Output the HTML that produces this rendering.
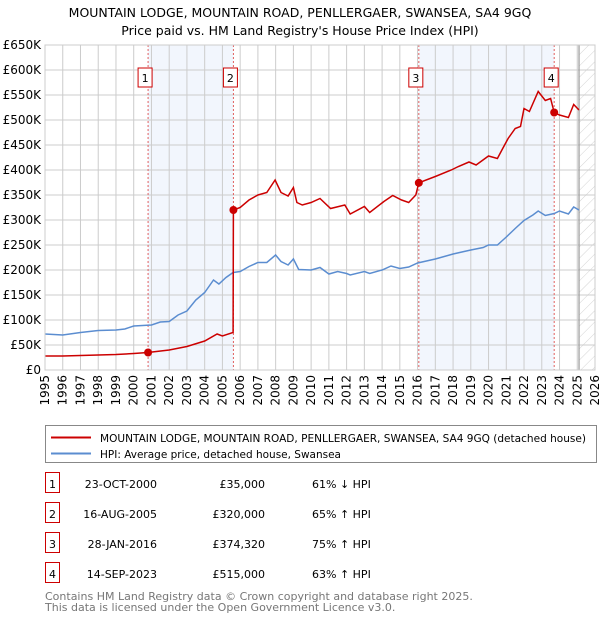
<!DOCTYPE html>
<html><head><meta charset="utf-8"><style>
body{margin:0;background:#fff;font-family:"Liberation Sans","DejaVu Sans",sans-serif;}
svg text{font-family:"DejaVu Sans","Liberation Sans",sans-serif;}
</style></head><body>
<svg id="chart" width="600" height="620" xmlns="http://www.w3.org/2000/svg">
<defs><pattern id="hatch" width="8" height="8" patternUnits="userSpaceOnUse" patternTransform="rotate(45)"><line x1="0" y1="0" x2="0" y2="8" stroke="#d4d4d4" stroke-width="1"/></pattern></defs>
<text x="300" y="17" text-anchor="middle" font-size="12.5">MOUNTAIN LODGE, MOUNTAIN ROAD, PENLLERGAER, SWANSEA, SA4 9GQ</text>
<text x="300" y="35" text-anchor="middle" font-size="12.5">Price paid vs. HM Land Registry's House Price Index (HPI)</text>
<g id="plot"></g>
<rect x="45.5" y="425.5" width="551" height="37" fill="#fff" stroke="#888"/>
<line x1="51" y1="437.5" x2="91" y2="437.5" stroke="#cc0000" stroke-width="2"/>
<text x="100" y="442" font-size="11" textLength="486" lengthAdjust="spacingAndGlyphs">MOUNTAIN LODGE, MOUNTAIN ROAD, PENLLERGAER, SWANSEA, SA4 9GQ (detached house)</text>
<line x1="51" y1="453.5" x2="91" y2="453.5" stroke="#5b8dd0" stroke-width="2"/>
<text x="100" y="458" font-size="11" textLength="241" lengthAdjust="spacingAndGlyphs">HPI: Average price, detached house, Swansea</text>
<g id="table" font-size="11"></g>
<text x="45" y="600" font-size="11" fill="#777">Contains HM Land Registry data © Crown copyright and database right 2025.</text>
<text x="45" y="611" font-size="11" fill="#777">This data is licensed under the Open Government Licence v3.0.</text>
</svg>
<script>
const yTicks=[0,50,100,150,200,250,300,350,400,450,500,550,600,650];
const yTickLabels=["£0","£50K","£100K","£150K","£200K","£250K","£300K","£350K","£400K","£450K","£500K","£550K","£600K","£650K"];
const xYears=[1995,1996,1997,1998,1999,2000,2001,2002,2003,2004,2005,2006,2007,2008,2009,2010,2011,2012,2013,2014,2015,2016,2017,2018,2019,2020,2021,2022,2023,2024,2025,2026];
const redT=[1995,1996,1997,1998,1999,2000,2000.8,2002,2003,2004,2004.7,2005,2005.6,2005.62,2006,2006.5,2007,2007.5,2007.97,2008.3,2008.7,2009,2009.2,2009.5,2010,2010.5,2011.1,2011.9,2012.2,2013,2013.3,2014.1,2014.6,2015.1,2015.5,2015.9,2016.07,2017,2017.9,2018.3,2018.9,2019.3,2020,2020.5,2020.8,2021.1,2021.5,2021.8,2022,2022.3,2022.8,2023.2,2023.5,2023.7,2024,2024.5,2024.8,2025.1];
const redV=[28,28,29,30,31,33,35,40,47,58,72,68,75,320,325,340,350,355,380,355,348,365,335,330,335,343,323,330,312,327,315,337,349,340,335,350,374.32,387,400,407,416,410,428,423,443,463,483,487,523,517,557,539,543,515,510,505,531,520];
const hpiT=[1995,1996,1997,1998,1999,1999.5,2000,2001,2001.5,2002,2002.5,2003,2003.5,2004,2004.5,2004.8,2005.2,2005.6,2006,2006.5,2007,2007.5,2008,2008.3,2008.7,2009,2009.3,2010,2010.5,2011,2011.5,2012,2012.2,2013,2013.3,2014,2014.5,2015,2015.5,2016,2017,2018,2018.5,2019,2019.7,2020,2020.5,2021,2021.5,2022,2022.5,2022.8,2023.2,2023.7,2024,2024.5,2024.8,2025.1];
const hpiV=[72,70,75,79,80,82,88,90,96,97,110,118,140,155,180,172,185,195,197,207,215,215,230,217,210,222,201,200,205,192,197,193,190,197,193,200,208,203,206,214,222,232,236,240,245,250,250,266,283,299,310,318,309,313,318,312,326,320];
const saleT=[2000.81,2005.62,2016.07,2023.7];
const saleV=[35,320,374.32,515];
const saleLabels=["1","2","3","4"];
const saleDates=["23-OCT-2000","16-AUG-2005","28-JAN-2016","14-SEP-2023"];
const salePrices=["£35,000","£320,000","£374,320","£515,000"];
const saleHpi=["61% ↓ HPI","65% ↑ HPI","75% ↑ HPI","63% ↑ HPI"];

const NS="http://www.w3.org/2000/svg";
const X0=45,X1=595,Y0=370,Y1=45;
const xs=t=>X0+(t-1995)/31*(X1-X0);
const ys=v=>Y0-v/650*(Y0-Y1);
const plot=document.getElementById('plot');
function mk(tag,attrs,parent){const e=document.createElementNS(NS,tag);for(const k in attrs)e.setAttribute(k,attrs[k]);(parent||plot).appendChild(e);return e;}
for(let i=0;i<4;i+=2){const b=mk('rect',{x:xs(saleT[i]),y:Y1,width:xs(saleT[i+1])-xs(saleT[i]),height:Y0-Y1,fill:'#f2f6fd'});

}
const h=mk('rect',{x:xs(2025.1),y:Y1,width:X1-xs(2025.1),height:Y0-Y1,fill:'url(#hatch)'});


xYears.forEach(y=>{const l=mk('line',{x1:xs(y),x2:xs(y),y1:Y1,y2:Y0,stroke:'#ccc'});


const t=mk('text',{x:0,y:0,'font-size':12,transform:`translate(${xs(y)+4},${Y0+5}) rotate(-90)`,'text-anchor':'end'});t.textContent=y;

});
yTicks.forEach((v,i)=>{const l=mk('line',{x1:X0,x2:X1,y1:ys(v),y2:ys(v),stroke:'#ccc'});


const t=mk('text',{x:X0-4,y:ys(v)+4,'font-size':12,'text-anchor':'end'});t.textContent=yTickLabels[i];

});
const nl=mk('line',{x1:xs(2025.1),x2:xs(2025.1),y1:Y1,y2:Y0,stroke:'#999','stroke-width':1.2});


saleT.forEach((t,i)=>{const l=mk('line',{x1:xs(t),x2:xs(t),y1:Y1,y2:Y0,stroke:'#e06060','stroke-dasharray':'2,2'});


const r=mk('rect',{x:xs(t)-10,y:68,width:14,height:19,fill:'#fff',stroke:'#cc0000'});


const tx=mk('text',{x:xs(t)-3,y:82,'font-size':11,'text-anchor':'middle'});tx.textContent=saleLabels[i];

});
const path=(T,V)=>T.map((t,i)=>(i?'L':'M')+xs(t).toFixed(1)+','+ys(V[i]).toFixed(1)).join('');
const hp=mk('path',{d:path(hpiT,hpiV),fill:'none',stroke:'#5b8dd0','stroke-width':1.5});


const rp=mk('path',{d:path(redT,redV),fill:'none',stroke:'#cc0000','stroke-width':1.5});


saleT.forEach((t,i)=>{const c=mk('circle',{cx:xs(t),cy:ys(saleV[i]),r:4,fill:'#cc0000'});

});
const fr=mk('rect',{x:X0,y:Y1,width:X1-X0,height:Y0-Y1,fill:'none',stroke:'#ccc'});


const tb=document.getElementById('table');
saleT.forEach((t,i)=>{const y=484+i*30;
const r=mk('rect',{x:45.5,y:y-11.5,width:14,height:20,fill:'#fff',stroke:'#cc0000'},tb);


const cells=[[52.5,saleLabels[i],'middle'],[157,saleDates[i],'end'],[265,salePrices[i],'end'],[312,saleHpi[i],'start']];
cells.forEach(c=>{const tx=mk('text',{x:c[0],y:y+4,'text-anchor':c[2]},tb);tx.textContent=c[1];

});});
</script>
</body></html>
